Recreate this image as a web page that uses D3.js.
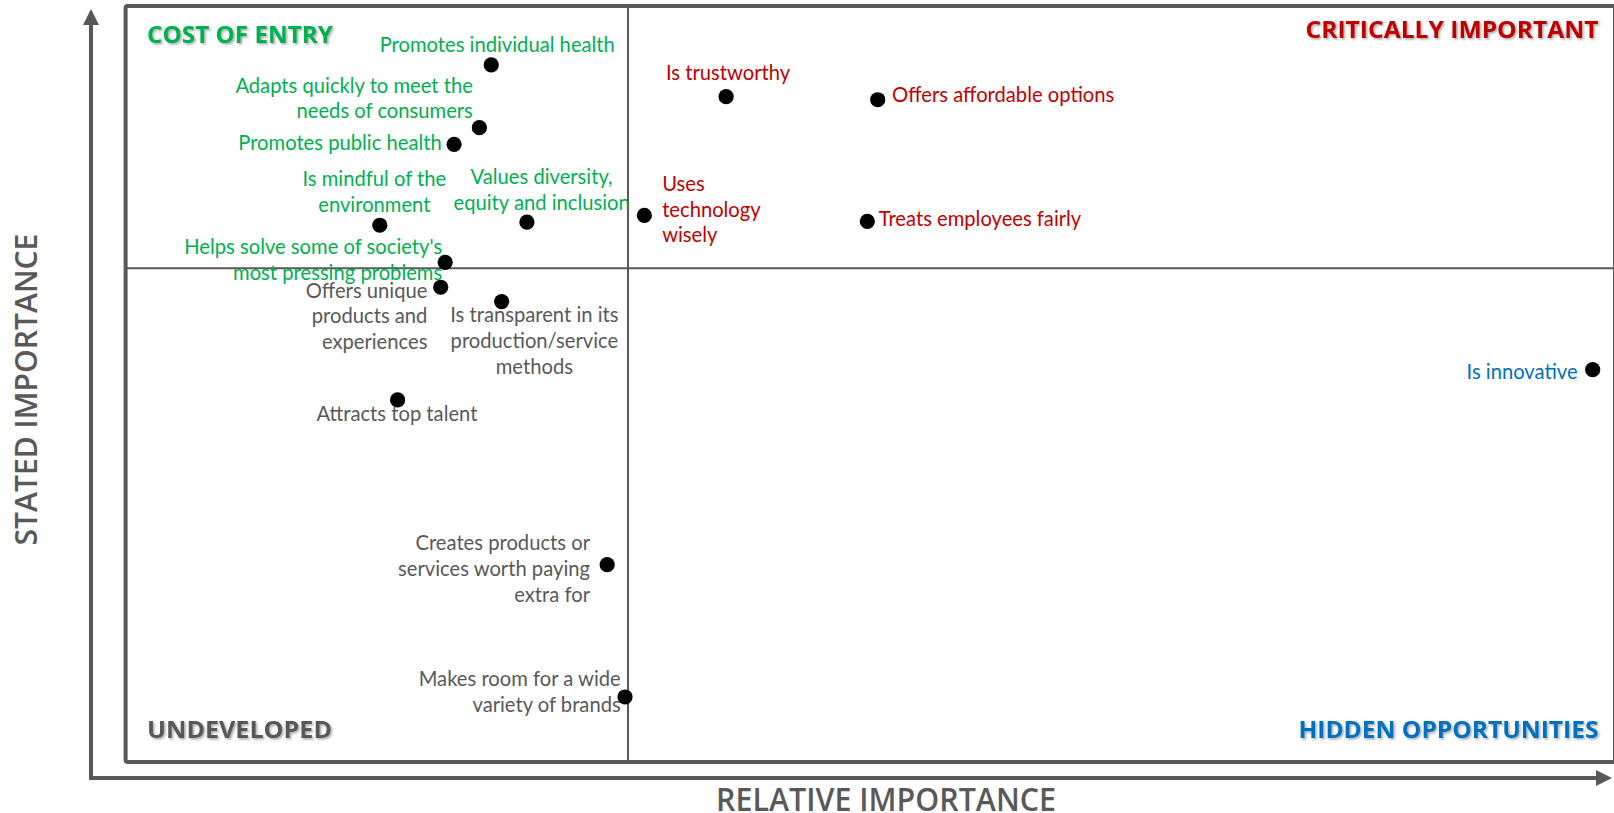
<!DOCTYPE html>
<html>
<head>
<meta charset="utf-8">
<script src="https://cdn.jsdelivr.net/npm/d3@7"></script>
<style>
  html, body { margin: 0; padding: 0; background: #fff; overflow: hidden; }
  svg { display: block; }
</style>
</head>
<body>
<svg id="chart" width="1614" height="813"></svg>
<script>
// Brand attributes: relative importance (x) vs stated importance (y)
const attributes = [
  "Promotes individual health",
  "Adapts quickly to meet the|needs of consumers",
  "Promotes public health",
  "Is mindful of the|environment",
  "Values diversity,|equity and inclusion",
  "Helps solve some of society's|most pressing problems",
  "Offers unique|products and|experiences",
  "Is transparent in its|production/service|methods",
  "Attracts top talent",
  "Creates products or|services worth paying|extra for",
  "Makes room for a wide|variety of brands",
  "Is trustworthy",
  "Offers affordable options",
  "Uses|technology|wisely",
  "Treats employees fairly",
  "Is innovative"
];
const relativeImportance = [24.6, 23.8, 22.1, 17.1, 27.0, 21.5, 21.2, 25.3, 18.3, 32.4, 33.6, 40.4, 50.6, 34.9, 49.9, 98.7];
const statedImportance   = [92.2, 83.9, 81.7, 71.0, 71.4, 66.1, 62.8, 60.9, 47.9, 26.1, 8.6, 88.0, 87.6, 72.3, 71.5, 51.9];

// Quadrant thresholds
const relativeThreshold = [33.8];
const statedThreshold = [65.3];

const quadrantNames = ["COST OF ENTRY", "CRITICALLY IMPORTANT", "UNDEVELOPED", "HIDDEN OPPORTUNITIES"];
const axisTitles = ["RELATIVE IMPORTANCE", "STATED IMPORTANCE"];

// Label placement around each dot: text anchor, offsets of the first line
const labelPlacement = [
  ["middle",   6.0, -20.5],
  ["end",     -6.5, -42.2],
  ["end",    -12.4,  -2.0],
  ["middle",  -5.4, -46.3],
  ["middle",  14.7, -45.0],
  ["end",     -3.0, -15.5],
  ["end",    -13.3,   3.3],
  ["middle",  32.7,  13.4],
  ["middle",  -0.7,  13.8],
  ["end",    -17.2, -21.5],
  ["end",     -4.3, -17.7],
  ["middle",   2.0, -23.7],
  ["start",   14.4,  -5.3],
  ["start",   17.8, -31.8],
  ["start",   11.4,  -2.8],
  ["end",    -15.0,   2.0]
];

const colors = { upperLeft: "#00B050", upperRight: "#C00000", lowerLeft: "#595959", lowerRight: "#0070C0" };
const lineGray = "#595959";

const svg = d3.select("#chart");
const plot = { left: 125.6, right: 1615, top: 6, bottom: 762 };

const x = d3.scaleLinear().domain([0, 100]).range([plot.left, 1612]);
const y = d3.scaleLinear().domain([0, 100]).range([plot.bottom, plot.top]);

// soft shadow for the quadrant headings
const defs = svg.append("defs");
const f = defs.append("filter").attr("id", "shadow").attr("x", "-5%").attr("y", "-20%").attr("width", "110%").attr("height", "160%");
f.append("feDropShadow").attr("dx", 1.5).attr("dy", 1.5).attr("stdDeviation", 1.2)
  .attr("flood-color", "#000").attr("flood-opacity", 0.35);

// outer axis arrows
const axisG = svg.append("g");
const ax0 = 91, ay0 = 778;
axisG.append("line").attr("x1", ax0).attr("y1", ay0 + 2).attr("x2", ax0).attr("y2", 22)
  .attr("stroke", lineGray).attr("stroke-width", 4);
axisG.append("path").attr("d", `M${ax0},9 L${ax0 - 8},25 L${ax0 + 8},25 Z`).attr("fill", lineGray);
axisG.append("line").attr("x1", ax0 - 2).attr("y1", ay0).attr("x2", 1598).attr("y2", ay0)
  .attr("stroke", lineGray).attr("stroke-width", 4);
axisG.append("path").attr("d", `M1612,${ay0} L1596,${ay0 - 8} L1596,${ay0 + 8} Z`).attr("fill", lineGray);

// plot frame
svg.append("rect")
  .attr("x", plot.left).attr("y", plot.top)
  .attr("width", plot.right - plot.left).attr("height", plot.bottom - plot.top)
  .attr("rx", 2)
  .attr("fill", "none").attr("stroke", lineGray).attr("stroke-width", 4);

// quadrant dividers
svg.append("line")
  .attr("x1", x(relativeThreshold[0])).attr("x2", x(relativeThreshold[0]))
  .attr("y1", plot.top).attr("y2", plot.bottom)
  .attr("stroke", lineGray).attr("stroke-width", 2);
svg.append("line")
  .attr("x1", plot.left).attr("x2", plot.right)
  .attr("y1", y(statedThreshold[0])).attr("y2", y(statedThreshold[0]))
  .attr("stroke", lineGray).attr("stroke-width", 2);

// quadrant headings
const headingFont = "'Open Sans', sans-serif";
const headings = [
  { t: quadrantNames[0], x: 147,    y: 33,    anchor: "start", c: colors.upperLeft,  w: 186 },
  { t: quadrantNames[1], x: 1598.5, y: 28,    anchor: "end",   c: colors.upperRight, w: 293 },
  { t: quadrantNames[2], x: 147,    y: 728.5, anchor: "start", c: colors.lowerLeft,  w: 185 },
  { t: quadrantNames[3], x: 1598.5, y: 728.5, anchor: "end",   c: colors.lowerRight, w: 300 }
];
svg.append("g").selectAll("text").data(headings).join("text")
  .attr("x", d => d.x).attr("y", d => d.y)
  .attr("text-anchor", d => d.anchor)
  .attr("dominant-baseline", "central")
  .attr("font-family", headingFont).attr("font-weight", 700).attr("font-size", 24)
  .attr("fill", d => d.c)
  .attr("textLength", d => d.w).attr("lengthAdjust", "spacingAndGlyphs")
  .attr("filter", "url(#shadow)")
  .text(d => d.t);

// axis titles
svg.append("text")
  .attr("x", 886).attr("y", 811)
  .attr("text-anchor", "middle")
  .attr("font-family", headingFont).attr("font-weight", 600).attr("font-size", 32)
  .attr("fill", lineGray)
  .attr("textLength", 340).attr("lengthAdjust", "spacingAndGlyphs")
  .text(axisTitles[0]);
svg.append("text")
  .attr("transform", "translate(37,389.6) rotate(-90)")
  .attr("text-anchor", "middle")
  .attr("font-family", headingFont).attr("font-weight", 600).attr("font-size", 31)
  .attr("fill", lineGray)
  .attr("textLength", 312).attr("lengthAdjust", "spacingAndGlyphs")
  .text(axisTitles[1]);

// data points
const points = attributes.map((name, i) => ({
  lines: name.split("|"),
  rx: relativeImportance[i],
  sy: statedImportance[i],
  place: labelPlacement[i]
}));
function colorOf(d) {
  const right = d.rx > relativeThreshold[0];
  const upper = d.sy > statedThreshold[0];
  if (upper) return right ? colors.upperRight : colors.upperLeft;
  return right ? colors.lowerRight : colors.lowerLeft;
}

const lineHeight = 25.7;
const baselineShift = -0.8;
const labelG = svg.append("g")
  .attr("font-family", "Lato, 'Open Sans', sans-serif")
  .attr("font-size", 20.2);
labelG.selectAll("text").data(points).join("text")
  .attr("text-anchor", d => d.place[0])
  .attr("dominant-baseline", "central")
  .attr("fill", colorOf)
  .each(function (d) {
    const t = d3.select(this);
    d.lines.forEach((ln, j) => {
      t.append("tspan")
        .attr("x", x(d.rx) + d.place[1])
        .attr("y", y(d.sy) + d.place[2] + baselineShift + j * lineHeight)
        .text(ln);
    });
  });

svg.append("g").selectAll("circle").data(points).join("circle")
  .attr("cx", d => x(d.rx)).attr("cy", d => y(d.sy))
  .attr("r", 7.6).attr("fill", "#000");
</script>
</body>
</html>
